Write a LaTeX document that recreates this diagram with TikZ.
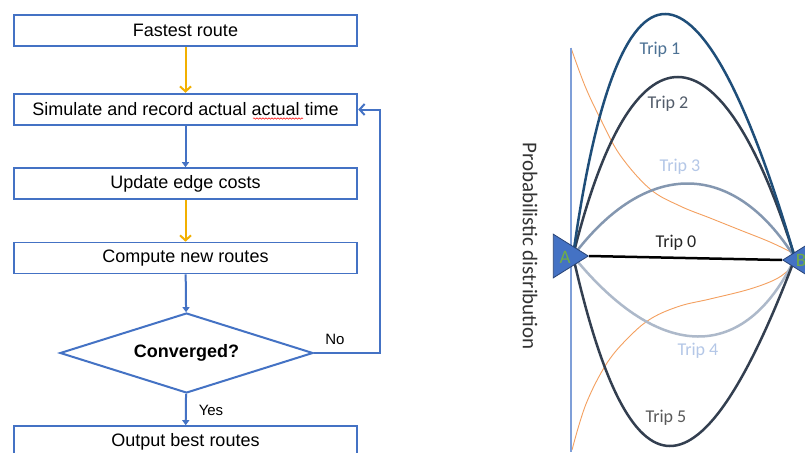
\documentclass[tikz,border=0pt]{standalone}
\usepackage{fontspec}
\setmainfont{Liberation Sans}
\newfontfamily\calfont{Carlito}
\usetikzlibrary{shapes.geometric,arrows.meta,decorations.pathmorphing}
\definecolor{fcblue}{HTML}{4472C4}
\definecolor{fcyel}{HTML}{F2B000}
\definecolor{tripone}{HTML}{1F4E79}
\definecolor{tripdark}{HTML}{333F50}
\definecolor{tripthree}{HTML}{8497B0}
\definecolor{tripfour}{HTML}{ADB9CA}
\definecolor{triplight}{HTML}{B4C7E7}
\definecolor{orangec}{HTML}{F4A060}
\definecolor{labgreen}{HTML}{70AD47}
\definecolor{axisblue}{HTML}{7F9FD8}
\tikzset{
  fbox/.style={draw=fcblue, line width=1.6pt, minimum width=343pt, minimum height=31pt, inner sep=0pt, font=\fontsize{18}{20}\selectfont},
  fboxthick/.style={fbox, line width=2.5pt},
  bluearrow/.style={draw=fcblue, line width=2pt, -{Triangle[length=5pt,width=7pt]}},
  yelarrow/.style={draw=fcyel, line width=2pt, -{Straight Barb[length=5pt,width=11pt]}},
  trip/.style={line width=2.5pt},
  triplab/.style={font=\calfont\fontsize{18}{20}\selectfont, inner sep=0pt},
  smalllab/.style={font=\fontsize{15}{17}\selectfont, inner sep=0pt},
  tri/.style={fill=fcblue, draw=fcblue!60!black, line width=0.8pt}
}
\begin{document}
\begin{tikzpicture}[x=1pt,y=-1pt]
\clip (0,0) rectangle (805,452);
\fill[white] (0,0) rectangle (805,452);
% ---------- flowchart ----------
\node[fboxthick] (f1) at (185.5,30.5) {Fastest route};
\node[fboxthick] (f2) at (185.5,109.5) {Simulate and record actual actual time};
\node[fbox] (f3) at (185.5,183.5) {Update edge costs};
\node[fbox] (f4) at (185.5,258) {Compute new routes};
\node[draw=fcblue, line width=2pt, diamond, aspect=3.16, minimum width=253pt, minimum height=80pt, inner sep=0pt, font=\bfseries\fontsize{18}{20}\selectfont] (d) at (186.5,353) {Converged?};
\node[fbox] (f5) at (185.5,441.5) {Output best routes};
\draw[red, line width=0.5pt, decorate, decoration={snake, amplitude=0.7pt, segment length=3pt}] (253,118.5) -- (303,118.5);
\draw[yelarrow] (f1) -- (f2);
\draw[bluearrow] (f2) -- (f3);
\draw[yelarrow] (f3) -- (f4);
\draw[bluearrow] (f4) -- (d);
\draw[bluearrow] (d) -- (f5);
\coordinate (nc) at (380,353);
\draw[draw=fcblue, line width=2pt, -{Straight Barb[length=5pt,width=11pt]}] (d.east) -- (nc) |- (f2.east);
\node[smalllab] (yes) at (211,410) {Yes};
\node[smalllab] (no) at (335,339) {No};
% ---------- right diagram ----------
\node[font=\calfont\fontsize{21}{23}\selectfont, text=black!80, rotate=-90, inner sep=0pt] (prob) at (530,246) {Probabilistic distribution};
\coordinate (axt) at (571,48);
\coordinate (axb) at (571,452);
% orange distribution curves
\draw[orangec, line width=0.9pt] plot[smooth, tension=0.6] coordinates {(571,48) (585,86) (600,118) (620,155) (650,189) (680,206) (710,218) (740,230) (770,242) (795,254)};
\draw[orangec, line width=0.9pt] plot[smooth, tension=0.6] coordinates {(572,450) (586,404) (607,363) (630,336) (652,318) (680,306) (710,299) (750,289) (778,278) (795,264)};
\draw[axisblue, line width=1.2pt] (axt) -- (axb);
\coordinate (s) at (573,256);
\coordinate (e) at (795,258);
% trips
\draw[trip, tripfour] (s) .. controls (660,363) and (745,363) .. (e);
\draw[trip, tripthree] (s) .. controls (646,159) and (733,159) .. (e);
\draw[trip, tripdark] (s) .. controls (630,509) and (700,509) .. (e);
\draw[trip, tripdark] (s) .. controls (632,17) and (720,17) .. (e);
\draw[trip, tripone] (s) .. controls (618,-67) and (700,-67) .. (e);
% triangles
\node[tri, isosceles triangle, isosceles triangle apex angle=64, minimum height=35pt, inner sep=0pt, anchor=apex] (A) at (589,256) {};
\node[tri, isosceles triangle, isosceles triangle apex angle=64, minimum height=35pt, inner sep=0pt, shape border rotate=180, anchor=apex] (B) at (782,260) {};
\draw[black, line width=2.5pt] (A.apex) -- (B.apex);
\node[font=\calfont\fontsize{19}{21}\selectfont, text=labgreen, inner sep=0pt] (la) at (565,257) {A};
\node[font=\calfont\fontsize{19}{21}\selectfont, text=labgreen, inner sep=0pt] (lb) at (801,260) {B};
\node[triplab, text=tripone!80!white] (t1) at (660,50) {Trip 1};
\node[triplab, text=tripdark!85!white] (t2) at (668,104) {Trip 2};
\node[triplab, text=triplight] (t3) at (680,167) {Trip 3};
\node[triplab, text=black!85] (t0) at (676,243) {Trip 0};
\node[triplab, text=triplight] (t4) at (698,351) {Trip 4};
\node[triplab, text=black!65] (t5) at (666,418) {Trip 5};
\end{tikzpicture}
\end{document}
